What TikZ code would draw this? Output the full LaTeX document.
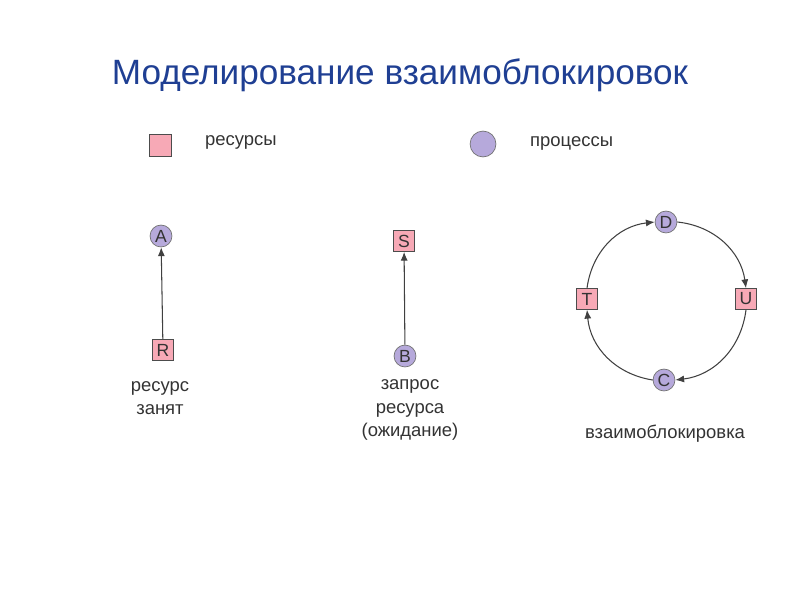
\documentclass[tikz,border=0pt]{standalone}
\usepackage{fontspec}
\setmainfont{Liberation Sans}
\usetikzlibrary{arrows.meta}
\definecolor{respink}{HTML}{F7A9B6}
\definecolor{proclilac}{HTML}{B6A9DB}
\definecolor{titleblue}{HTML}{1F3F93}
\definecolor{inkgray}{HTML}{333333}
\tikzset{
  res/.style={draw=black!70, fill=respink, minimum size=21pt*0.567, inner sep=0pt, font=\fontsize{10}{11}\selectfont, text=inkgray},
  proc/.style={draw=black!55, fill=proclilac, circle, minimum size=22pt*0.567, inner sep=0pt, font=\fontsize{10}{11}\selectfont, text=inkgray},
  lbl/.style={text=inkgray, font=\fontsize{10.5}{13.5}\selectfont, align=center},
  link/.style={draw=black!75, line width=0.6pt, -{Latex[length=5pt,width=4pt]}}
}
\def\canvas{(0,0) rectangle (800,600)}

\begin{document}
\begin{tikzpicture}[x=0.02cm, y=0.02cm]
  \useasboundingbox \canvas;
  \node[text=titleblue, font=\fontsize{20}{24}\selectfont] (title) at (400,525) {Моделирование взаимоблокировок};
  % legend
  \node[res, minimum size=22pt*0.567] (keyres) at (160,455) {};
  \node[lbl, anchor=west] (keyrestext) at (199,458) {ресурсы};
  \node[proc, minimum size=26pt*0.567] (keyproc) at (483,456) {};
  \node[lbl, anchor=west] (keyproctext) at (524,457) {процессы};
  % resource held
  \node[proc] (A) at (161,364) {A};
  \node[res] (R) at (163,250) {R};
  \draw[link] (R) -- (A);
  \node[lbl] (heldtext) at (160,202) {ресурс\\занят};
  % request
  \node[res] (S) at (404,359) {S};
  \node[proc] (B) at (405,244) {B};
  \draw[link] (B) -- (S);
  \node[lbl] (waittext) at (410,190) {запрос\\ресурса\\(ожидание)};
  % deadlock
  \node[proc] (D) at (666,378) {D};
  \node[res] (U) at (746,301) {U};
  \node[proc] (C) at (664,220) {C};
  \node[res] (T) at (587,301) {T};
  \draw[link] (D.east) to[bend left=38] (U.north);
  \draw[link] (U.south) to[bend left=38] (C.east);
  \draw[link] (C.west) to[bend left=38] (T.south);
  \draw[link] (T.north) to[bend left=38] (D.west);
  \node[lbl] (locktext) at (665,166) {взаимоблокировка};
\end{tikzpicture}
\end{document}
